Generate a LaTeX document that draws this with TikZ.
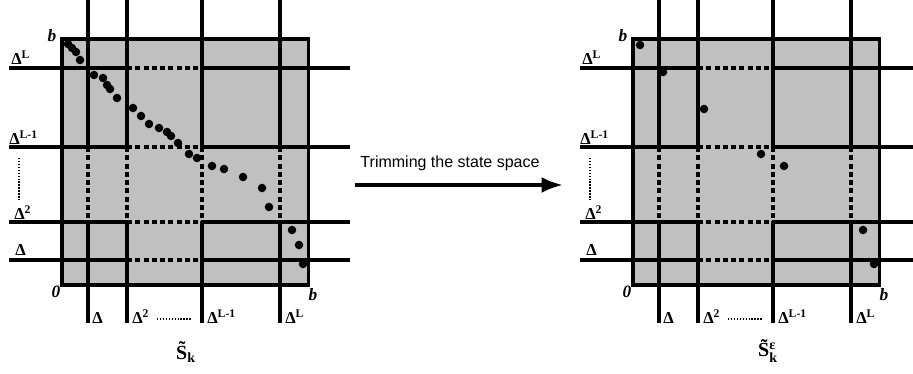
\documentclass[tikz,border=0pt]{standalone}
\usepackage{amsmath}
\usepackage{xcolor}
\usepackage{fontspec}
\setmainfont{Liberation Serif}
\newfontfamily\chuarial{Liberation Sans}
\usepackage{tikz}
\usetikzlibrary{arrows.meta}
\definecolor{xam}{RGB}{192,192,192}

\begin{document}
\begin{tikzpicture}[x=0.75pt, y=-0.75pt, >={Latex[length=16pt,width=12pt]},
    luoi/.style={line width=2.4pt},
    netdut/.style={line width=2.3pt, dash pattern=on 3.8pt off 2.4pt},
    chamcham/.style={line width=1pt, dash pattern=on 1.1pt off 1.1pt},
    nhan/.style={font=\fontsize{12.5}{12.5}\selectfont\bfseries, inner sep=0pt},
    chub/.style={font=\fontsize{13}{13}\selectfont\bfseries\itshape, inner sep=0pt}]
    \useasboundingbox (0,0) rectangle (913,374);

    % Vẽ hai khung lưới (trái: X = 62, phải: X = 633)
    \foreach \X in {62,633} {
        \fill[xam] (\X,39) rectangle (\X+246.5,285);
        % Các đường dọc Delta, Delta^2, Delta^{L-1}, Delta^L
        \foreach \d in {26,65,140,218} {
            \draw[luoi] (\X+\d,0) -- (\X+\d,147);
            \draw[netdut] (\X+\d,147) -- (\X+\d,222);
            \draw[luoi] (\X+\d,222) -- (\X+\d,323);
        }
        % Các đường ngang
        \foreach \h in {68,147,222,260} {
            \draw[luoi] (\X-53,\h) -- (\X+65,\h);
            \draw[netdut] (\X+65,\h) -- (\X+140,\h);
            \draw[luoi] (\X+140,\h) -- (\X+288,\h);
        }
        \draw[luoi] (\X,39) rectangle (\X+246.5,285);

        % Nhãn bên trái
        \node[nhan, anchor=south west] (tL-\X) at (\X-51,65) {Δ\textsuperscript{L}};
        \node[nhan, anchor=south west] (tL1-\X) at (\X-53,144.5) {Δ\textsuperscript{L-1}};
        \node[nhan, anchor=south west] (t2-\X) at (\X-48,219.5) {Δ\textsuperscript{2}};
        \node[nhan, anchor=south west] (t1-\X) at (\X-47,256) {Δ};
        \draw[chamcham] (\X-43,158) -- (\X-43,200);

        % Nhãn phía dưới
        \node[nhan, anchor=base west] (dL-\X) at (\X+26+4,323) {Δ};
        \node[nhan, anchor=base west] (d2-\X) at (\X+65+5,323) {Δ\textsuperscript{2}};
        \node[nhan, anchor=base west] (dL1-\X) at (\X+140+5,323) {Δ\textsuperscript{L-1}};
        \node[nhan, anchor=base west] (d1-\X) at (\X+218+5,323) {Δ\textsuperscript{L}};
        \draw[chamcham] (\X+95,319) -- (\X+130,319);

        % Gốc và đầu mút b
        \node[chub] (btren-\X) at (\X-10,36) {b};
        \node[chub] (goc-\X) at (\X-6,292) {0};
        \node[chub] (bduoi-\X) at (\X+251,295) {b};
    }

    % Các điểm của không gian trạng thái ban đầu
    \foreach \a/\b in {68/44, 72/48, 76/52, 80/60, 94/75, 103/78, 107/85, 110/89,
        117/98, 133/108, 141/116, 149/124, 159/128, 167/132, 171/136, 178/143,
        189/154, 197/158, 212/166, 224/169, 243/177, 262/188, 269/207, 292/230,
        299/245, 303/264}
        \fill (\a,\b) circle[radius=3.2pt];

    % Các điểm sau khi cắt tỉa
    \foreach \a/\b in {640/45, 663/72, 704/109, 761/154, 784/166, 863/230, 874/264}
        \fill (\a,\b) circle[radius=3.2pt];

    % Tên hai tập
    \node[font=\fontsize{15}{15}\selectfont\bfseries, inner sep=0pt] (Sk) at (186,352)
        {\~S$_{\text{\bfseries k}}$};
    \node[font=\fontsize{15}{15}\selectfont\bfseries, inner sep=0pt] (Ske) at (768,351)
        {\~S$^{\text{\bfseries ε}}_{\text{\bfseries k}}$};

    % Mũi tên cắt tỉa
    \coordinate (dau) at (355,185);
    \coordinate (cuoi) at (563,185);
    \draw[->, line width=2.8pt] (dau) -- (cuoi);
    \node[font=\chuarial\fontsize{12}{14}\selectfont] (tia) at (450,163) {Trimming the state space};
\end{tikzpicture}
\end{document}
